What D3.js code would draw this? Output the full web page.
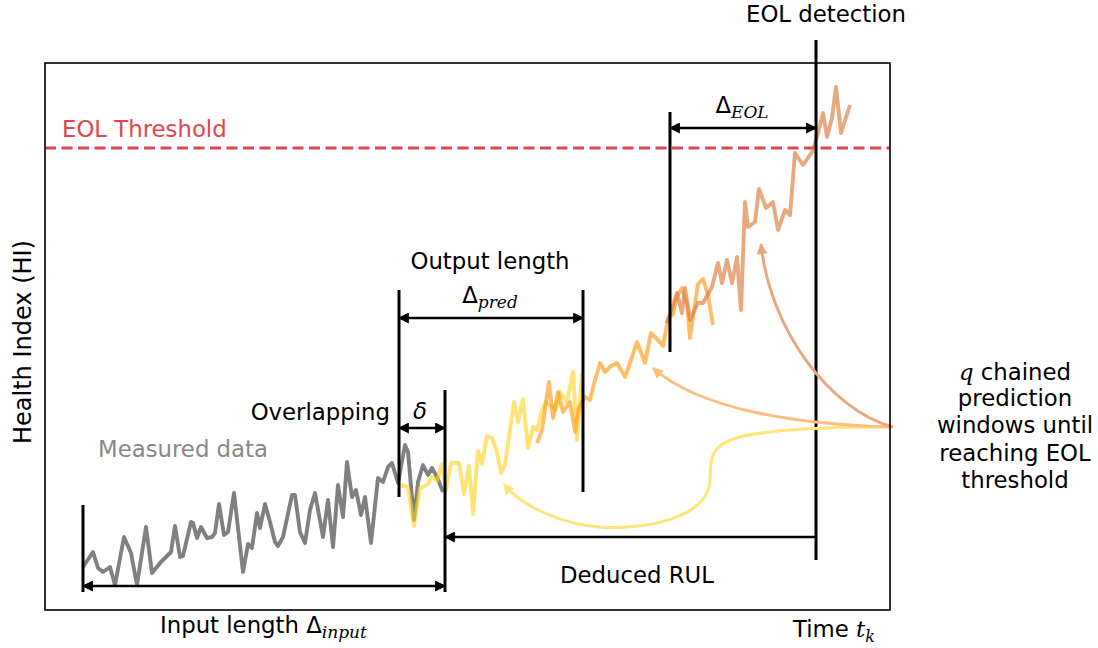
<!DOCTYPE html>
<html><head><meta charset="utf-8">
<script src="https://cdn.jsdelivr.net/npm/d3@7"></script>
<style>body{margin:0;background:#fff} text{font-family:"DejaVu Sans",sans-serif;}</style>
</head><body><svg id="c" width="1098" height="648"></svg>
<script>
// ---- data (time steps, health index in arbitrary units) ----
const tGray=[0,10,15,20,27,32,41,48,54,63,69,78,82,88,92,97,100,108,110,114,118,124,129,132,136,141,145,151,160,165,169,174,177,182,187,192,195,200,209,212,217,222,227,232,240,245,250,255,260,264,269,273,278,282,288,295,300,305,309,315,322,325,331,335,340,345,349,354,360];
const hiGray=[43,58,42,38,43,25,73,57,25,83,37,48,52,58,84,53,54,88,87,72,83,72,73,77,106,75,78,117,38,66,62,97,82,106,88,68,64,73,115,115,78,67,100,117,73,110,63,125,93,148,113,120,95,113,67,132,128,143,147,127,165,158,90,128,145,135,142,133,118];
const tPred1=[317,325,331,337,344,349,354,359,363,368,376,381,386,390,395,399,404,409,414,418,422,431,435,440,445,450,454,459,463,469,473,477,484,490,494,499];
const hiPred1=[125,123,84,122,125,133,129,146,120,147,147,116,144,96,159,146,174,172,158,137,145,208,188,211,162,183,180,200,208,203,200,218,208,238,170,237];
const tPred2=[454,459,466,470,475,480,487,492,496,502,507,512,517,522,528,534,542,548,554,562,568,575,580,585,590,594,599,604,607,611,615,620,625,630];
const hiPred2=[167,180,228,192,218,198,208,178,202,213,210,230,247,238,244,247,233,250,268,247,277,270,264,291,296,314,322,305,272,300,326,331,315,285];
const tPred3=[584,594,599,602,607,615,620,629,635,639,644,649,654,658,662,665,672,676,683,690,695,702,707,712,720,729,734,740,744,749,753,758,767];
const hiPred3=[287,317,297,322,290,307,307,323,347,327,350,327,353,300,408,383,388,421,402,408,380,400,395,457,445,458,473,497,473,492,523,477,505];
const eolThreshold=462;
// annotation times
const tInputStart=0, tInputEnd=362, tOutStart=316, tOutEnd=500, tLastStart=587, tEOL=733;

const svg=d3.select("#c");
const x=d3.scaleLinear().domain([-38,807]).range([45,890]);
const y=d3.scaleLinear().domain([0,547]).range([610,63]);

const defs=svg.append("defs");
function mk(id,color,w,h){
  defs.append("marker").attr("id",id).attr("viewBox","0 0 10 10").attr("refX",9).attr("refY",5)
    .attr("markerUnits","userSpaceOnUse").attr("markerWidth",w).attr("markerHeight",h)
    .attr("orient","auto-start-reverse")
    .append("path").attr("d","M0,0 L10,5 L0,10 z").attr("fill",color);
}
mk("ab","#000",13,11);
mk("ay","#ffe47a",12,11);
mk("ao","#ffbd80",12,11);
mk("ap","#e8a77f",12,11);

// threshold
svg.append("line").attr("x1",x.range()[0]).attr("x2",x.range()[1])
  .attr("y1",y(eolThreshold)).attr("y2",y(eolThreshold))
  .attr("stroke","#e0474c").attr("stroke-width",3).attr("stroke-dasharray","11,5.5");

const line=d3.line().x(d=>x(d[0])).y(d=>y(d[1]));
function series(t,h,color,op){
  svg.append("path").datum(t.map((v,i)=>[v,h[i]])).attr("d",line)
    .attr("fill","none").attr("stroke",color).attr("stroke-opacity",op)
    .attr("stroke-width",3.9).attr("stroke-linejoin","round");
}
series(tGray,hiGray,"#808080",1);
series(tPred1,hiPred1,"#ffd21f",0.62);
series(tPred2,hiPred2,"#ff9d1f",0.68);
series(tPred3,hiPred3,"#dc7a3c",0.65);

// vertical markers
function vline(t,h0,h1){
  svg.append("line").attr("x1",x(t)).attr("x2",x(t)).attr("y1",y(h0)).attr("y2",y(h1))
    .attr("stroke","#000").attr("stroke-width",3);
}
vline(tInputStart,18,105);
vline(tInputEnd,18,220);
vline(tOutStart,113,320);
vline(tOutEnd,118,320);
vline(tLastStart,258,498);
vline(tEOL,50,570);

function harrow(t0,t1,h,both){
  svg.append("line").attr("x1",x(t0)).attr("x2",x(t1)).attr("y1",y(h)).attr("y2",y(h))
    .attr("stroke","#000").attr("stroke-width",2.6)
    .attr("marker-start","url(#ab)").attr("marker-end",both?"url(#ab)":null);
}
harrow(tInputStart,tInputEnd,24,true);
harrow(tOutStart,tOutEnd,292,true);
harrow(tOutStart,tInputEnd,182,true);
harrow(tLastStart,tEOL,482,true);
harrow(tInputEnd,tEOL,73,false);

// curved arrows
const P=(t,h)=>x(t)+","+y(h);
function curve(d,color,m){
  svg.append("path").attr("d",d).attr("fill","none").attr("stroke",color)
    .attr("stroke-width",3).attr("marker-end","url(#"+m+")");
}
curve("M"+P(810,183)+" C"+P(617,183)+" "+P(629,165)+" "+P(627,130)+" C"+P(625,90)+" "+P(557,80)+" "+P(517,83)+" C"+P(477,86)+" "+P(437,105)+" "+P(421,126),"#ffe47a","ay");
curve("M"+P(810,183)+" C"+P(717,185)+" "+P(617,200)+" "+P(570,242),"#ffbd80","ao");
curve("M"+P(810,183)+" C"+P(747,200)+" "+P(687,280)+" "+P(678,366),"#e8a77f","ap");

// frame
svg.append("rect").attr("x",45).attr("y",63).attr("width",845).attr("height",547)
  .attr("fill","none").attr("stroke","#000").attr("stroke-width",1.6);

// texts
const fs=22.8, sub=17;
function txt(xp,yp,s,anchor,color){
  return svg.append("text").attr("x",xp).attr("y",yp).attr("text-anchor",anchor||"middle")
    .attr("font-size",fs).attr("fill",color||"#000").text(s);
}
const serif='"DejaVu Serif","Liberation Serif",serif';
txt(826,22,"EOL detection");
txt(62,137,"EOL Threshold","start","#e0474c");
svg.append("text").attr("transform","translate(31,342) rotate(-90)").attr("text-anchor","middle")
  .attr("font-size",24).text("Health Index (HI)");
txt(490,269,"Output length");
let t1=txt(490,303,"Δ"); t1.append("tspan").attr("dy",5).attr("font-family",serif).attr("font-style","italic").attr("font-size",sub).text("pred");
txt(390,420,"Overlapping","end");
txt(420,419,"δ").attr("font-family",serif).attr("font-style","italic");
txt(98,457,"Measured data","start","#888");
txt(637,583,"Deduced RUL");
let t2=txt(160,633,"Input length Δ","start"); t2.append("tspan").attr("dy",5).attr("font-family",serif).attr("font-style","italic").attr("font-size",sub).text("input");
let t3=txt(793,637,"Time ","start"); t3.append("tspan").attr("font-family",serif).attr("font-style","italic").text("t");
t3.append("tspan").attr("dy",5).attr("font-family",serif).attr("font-style","italic").attr("font-size",16).text("k");
let t4=txt(742,113,"Δ"); t4.append("tspan").attr("dy",5).attr("font-family",serif).attr("font-style","italic").attr("font-size",sub).text("EOL");
let t5=txt(1015,380,""); t5.append("tspan").attr("font-family",serif).attr("font-style","italic").text("q"); t5.append("tspan").text(" chained");
txt(1015,406,"prediction");
txt(1015,433,"windows until");
txt(1015,461,"reaching EOL");
txt(1015,488,"threshold");
</script></body></html>
